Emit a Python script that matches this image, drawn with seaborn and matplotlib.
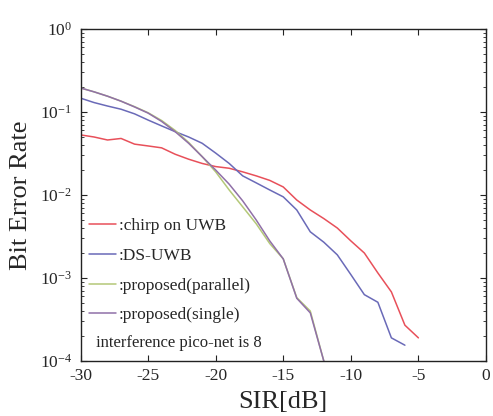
import numpy as np
import pandas as pd
import matplotlib
matplotlib.use("Agg")
import matplotlib.pyplot as plt
import seaborn as sns
from matplotlib.ticker import LogLocator, FixedLocator

# ---- data ----
sir_chirp = [-30, -29, -28, -27, -26, -25, -24, -23, -22, -21, -20, -19, -18, -17, -16,
             -15, -14, -13, -12, -11, -10, -9, -8, -7, -6, -5]
ber_chirp = [0.053, 0.050, 0.046, 0.048, 0.041, 0.039, 0.037, 0.031, 0.027, 0.024, 0.022,
             0.021, 0.019, 0.017, 0.015, 0.0125, 0.0087, 0.0066, 0.0052, 0.0040, 0.0028,
             0.0020, 0.00115, 0.00068, 0.00027, 0.00019]

sir_ds = [-30, -29, -28, -27, -26, -25, -24, -23, -22, -21, -20, -19, -18, -17, -16, -15,
          -14, -13, -12, -11, -10, -9, -8, -7, -6]
ber_ds = [0.147, 0.130, 0.118, 0.108, 0.095, 0.080, 0.068, 0.058, 0.050, 0.042, 0.032,
          0.024, 0.017, 0.014, 0.0115, 0.0095, 0.0066, 0.0036, 0.0027, 0.0019, 0.0011,
          0.00063, 0.00051, 0.00019, 0.000155]

sir_par = [-30, -29, -28, -27, -26, -25, -24, -23, -22, -21, -20, -19, -18, -17, -16,
           -15, -14, -13, -12]
ber_par = [0.195, 0.175, 0.155, 0.135, 0.116, 0.098, 0.079, 0.060, 0.043, 0.029, 0.019,
           0.0115, 0.0072, 0.0045, 0.0026, 0.0017, 0.00058, 0.00040, 0.0001]

sir_single = [-30, -29, -28, -27, -26, -25, -24, -23, -22, -21, -20, -19, -18, -17, -16,
              -15, -14, -13, -12]
ber_single = [0.195, 0.175, 0.155, 0.135, 0.115, 0.097, 0.077, 0.058, 0.042, 0.029, 0.020,
              0.0135, 0.0085, 0.0050, 0.0028, 0.0017, 0.00057, 0.00038, 0.0001]

labels = [":chirp on UWB", ":DS-UWB", ":proposed(parallel)", ":proposed(single)"]
colors = ["#e8505a", "#6a6ab8", "#b4c878", "#9070a8"]
note = "interference pico-net is 8"
x_ticks = [-30, -25, -20, -15, -10, -5, 0]

frames = []
for lab, xs, ys in zip(labels, [sir_chirp, sir_ds, sir_par, sir_single],
                       [ber_chirp, ber_ds, ber_par, ber_single]):
    frames.append(pd.DataFrame({"SIR": xs, "BER": ys, "scheme": lab}))
df = pd.concat(frames, ignore_index=True)

sns.set_style("ticks")
plt.rcParams["font.family"] = ["Liberation Serif", "DejaVu Serif"]
plt.rcParams["mathtext.fontset"] = "custom"
plt.rcParams["mathtext.rm"] = "Liberation Serif"
plt.rcParams["mathtext.it"] = "Liberation Serif:italic"
plt.rcParams["mathtext.bf"] = "Liberation Serif:bold"
plt.rcParams["axes.unicode_minus"] = False

fig = plt.figure(figsize=(4.93, 4.16), dpi=100)
ax = fig.add_axes([80.5 / 493, 55 / 416, 405.5 / 493, 332 / 416])

sns.lineplot(data=df, x="SIR", y="BER", hue="scheme", hue_order=labels,
             palette=colors, linewidth=1.1, ax=ax, legend=False, sort=False)

ax.set_yscale("log")
ax.set_xlim(-30, 0)
ax.set_ylim(1e-4, 1)
ax.xaxis.set_major_locator(FixedLocator(x_ticks))
ax.yaxis.set_major_locator(LogLocator(base=10, numticks=10))
ax.yaxis.set_minor_locator(LogLocator(base=10, subs=np.arange(2, 10), numticks=20))

ax.tick_params(which="both", direction="in", top=True, right=True,
               labelsize=12.5, color="#222222")
ax.tick_params(which="major", length=4, width=0.8)
ax.tick_params(which="minor", length=2.5, width=0.6)
ax.tick_params(axis="x", pad=5)
ax.tick_params(axis="y", pad=6)
for s in ax.spines.values():
    s.set_linewidth(1.0)
    s.set_color("#222222")

ax.set_xlabel("SIR[dB]", fontsize=19, labelpad=5)
ax.set_ylabel("Bit Error Rate", fontsize=19, labelpad=6)

handles = [plt.Line2D([], [], color=c, lw=1.1) for c in colors]
leg = ax.legend(handles, labels, loc="upper left", bbox_to_anchor=(0.02, 0.43),
                frameon=False, fontsize=12.5, handlelength=1.6, handletextpad=0.15,
                labelspacing=0.78, borderpad=0, borderaxespad=0)
ax.text(0.037, 0.053, note, transform=ax.transAxes, fontsize=12, va="center", ha="left")

fig.savefig("out.png", dpi=100)
